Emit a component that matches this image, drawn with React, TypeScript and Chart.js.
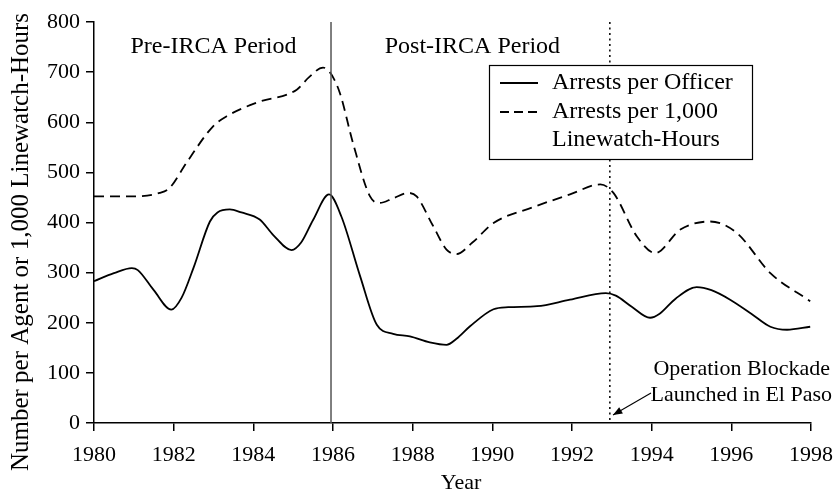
import React, { useEffect, useRef } from "react";
import { Chart, registerables } from "chart.js";

Chart.register(...registerables);

// ---- data ----
const officerYears = [
  1980, 1980.5, 1980.95, 1981.1, 1981.5, 1981.94, 1982.2, 1982.5, 1982.91, 1983.1, 1983.41,
  1983.7, 1984.16, 1984.5, 1984.96, 1985.2, 1985.5, 1985.9, 1986.21, 1986.68, 1987.1, 1987.51,
  1987.93, 1988.43, 1988.85, 1989.1, 1989.44, 1990.03, 1990.4, 1991.12, 1991.95, 1992.85,
  1993.1, 1993.5, 1993.96, 1994.2, 1994.6, 1995.13, 1995.5, 1995.97, 1996.5, 1996.98, 1997.4,
  1997.98,
];
const officerValues = [
  283, 299, 309, 305, 265, 226, 250, 310, 402, 420, 426, 420, 406, 375, 345, 360, 405, 456,
  412, 293, 196, 178, 173, 161, 156, 168, 193, 227, 231, 233, 246, 259, 254, 232, 210, 218,
  248, 271, 265, 246, 218, 192, 186, 192,
];

const linewatchYears = [
  1980, 1980.8, 1981.65, 1981.9, 1982.32, 1982.99, 1983.33, 1984.08, 1985.09, 1985.4, 1985.75,
  1985.92, 1986.17, 1986.5, 1986.93, 1987.18, 1987.5, 1987.89, 1988.1, 1988.5, 1988.85, 1989.1,
  1989.5, 1990.03, 1991, 1991.95, 1992.71, 1993.04, 1993.63, 1994.09, 1994.72, 1995.47,
  1996.14, 1996.98, 1997.98,
];
const linewatchValues = [
  452, 452, 459, 469, 519, 592, 612, 639, 665, 690, 709, 700, 659, 559, 452, 439, 448, 459,
  452, 395, 346, 337, 360, 399, 430, 456, 476, 459, 372, 339, 386, 402, 379, 299, 243,
];

const xTicks = [1980, 1982, 1984, 1986, 1988, 1990, 1992, 1994, 1996, 1998];
const yTicks = [0, 100, 200, 300, 400, 500, 600, 700, 800];

const seriesNames = ["Arrests per Officer", "Arrests per 1,000 Linewatch-Hours"];
const legendLines = [["Arrests per Officer"], ["Arrests per 1,000", "Linewatch-Hours"]];
const periodLabels = ["Pre-IRCA Period", "Post-IRCA Period"];
const periodLabelYears = [1983, 1989.5];
const periodLabelValue = 750;
const ircaYear = 1985.95;
const blockadeYear = 1992.95;
const blockadeText = ["Operation Blockade", "Launched in El Paso"];
const xTitle = "Year";
const yTitle = "Number per Agent or 1,000 Linewatch-Hours";

const FONT = "'Liberation Serif', 'Times New Roman', serif";
const FS = 22;
const TFS = 24;

const overlayPlugin = {
  id: "overlay",
  afterDatasetsDraw(chart: any) {
    const ctx = chart.ctx as CanvasRenderingContext2D;
    const xs = chart.scales.x;
    const ys = chart.scales.y;
    const area = chart.chartArea;
    ctx.save();

    // IRCA solid vertical line
    const xi = xs.getPixelForValue(ircaYear);
    ctx.strokeStyle = "#555";
    ctx.lineWidth = 1.5;
    ctx.beginPath();
    ctx.moveTo(xi, area.top);
    ctx.lineTo(xi, area.bottom);
    ctx.stroke();

    // Blockade dotted line
    const xb = xs.getPixelForValue(blockadeYear);
    ctx.strokeStyle = "#000";
    ctx.lineWidth = 1.5;
    ctx.setLineDash([2, 3.5]);
    ctx.beginPath();
    ctx.moveTo(xb, area.top);
    ctx.lineTo(xb, area.bottom);
    ctx.stroke();
    ctx.setLineDash([]);

    ctx.fillStyle = "#000";
    ctx.font = `${TFS}px ${FONT}`;
    ctx.textBaseline = "middle";
    ctx.textAlign = "center";
    periodLabels.forEach((t, i) => {
      ctx.fillText(t, xs.getPixelForValue(periodLabelYears[i]), ys.getPixelForValue(periodLabelValue));
    });

    // legend box
    const lx = 489, ly = 65, lw = 263, lh = 94;
    ctx.fillStyle = "#fff";
    ctx.fillRect(lx, ly, lw, lh);
    ctx.strokeStyle = "#000";
    ctx.lineWidth = 1.2;
    ctx.strokeRect(lx + 0.5, ly + 0.5, lw, lh);
    const rowY = [83, 112, 140];
    ctx.lineWidth = 1.8;
    ctx.beginPath();
    ctx.moveTo(500, rowY[0]);
    ctx.lineTo(538, rowY[0]);
    ctx.stroke();
    ctx.setLineDash([9, 5]);
    ctx.beginPath();
    ctx.moveTo(500, rowY[1]);
    ctx.lineTo(538, rowY[1]);
    ctx.stroke();
    ctx.setLineDash([]);
    ctx.fillStyle = "#000";
    ctx.textAlign = "left";
    let r = 0;
    legendLines.forEach((lines) => {
      lines.forEach((t) => {
        ctx.fillText(t, 552, rowY[r]);
        r++;
      });
    });

    // blockade annotation
    ctx.font = `${FS}px ${FONT}`;
    ctx.textAlign = "right";
    ctx.fillText(blockadeText[0], 830, 369);
    ctx.fillText(blockadeText[1], 832, 395);
    const ax0 = 651, ay0 = 393, ax1 = 613, ay1 = 415;
    ctx.lineWidth = 1.1;
    ctx.beginPath();
    ctx.moveTo(ax0, ay0);
    ctx.lineTo(ax1, ay1);
    ctx.stroke();
    const ang = Math.atan2(ay1 - ay0, ax1 - ax0);
    const hl = 10, hw = 0.38;
    ctx.beginPath();
    ctx.moveTo(ax1, ay1);
    ctx.lineTo(ax1 - hl * Math.cos(ang - hw), ay1 - hl * Math.sin(ang - hw));
    ctx.lineTo(ax1 - hl * Math.cos(ang + hw), ay1 - hl * Math.sin(ang + hw));
    ctx.closePath();
    ctx.fill();

    // axis titles
    ctx.textAlign = "center";
    ctx.textBaseline = "alphabetic";
    ctx.fillText(xTitle, 461, 489);
    ctx.font = `25px ${FONT}`;
    ctx.save();
    ctx.translate(28, 242);
    ctx.rotate(-Math.PI / 2);
    ctx.fillText(yTitle, 0, 0);
    ctx.restore();

    ctx.restore();
  },
};

export default function App() {
  const ref = useRef<HTMLCanvasElement | null>(null);
  useEffect(() => {
    if (!ref.current) return;
    Chart.defaults.font.family = FONT;
    Chart.defaults.font.size = FS;
    Chart.defaults.color = "#000";
    const chart = new Chart(ref.current, {
      type: "line",
      data: {
        datasets: [
          {
            label: seriesNames[0],
            data: officerYears.map((x, i) => ({ x, y: officerValues[i] })),
            borderColor: "#000",
            borderWidth: 1.8,
            pointRadius: 0,
            cubicInterpolationMode: "monotone",
            fill: false,
          },
          {
            label: seriesNames[1],
            data: linewatchYears.map((x, i) => ({ x, y: linewatchValues[i] })),
            borderColor: "#000",
            borderWidth: 1.8,
            borderDash: [10, 6],
            pointRadius: 0,
            cubicInterpolationMode: "monotone",
            fill: false,
          },
        ],
      },
      options: {
        animation: false,
        responsive: false,
        layout: { padding: { top: 22, right: 25, left: 0, bottom: 0 } },
        plugins: { legend: { display: false }, tooltip: { enabled: false } },
        scales: {
          x: {
            type: "linear",
            min: 1980,
            max: 1998,
            afterBuildTicks: (s: any) => {
              s.ticks = xTicks.map((v) => ({ value: v }));
            },
            afterFit: (s: any) => {
              s.height = 68;
              s.paddingRight = 0;
              s.paddingLeft = 0;
            },
            ticks: { padding: 11, font: { size: FS, family: FONT }, color: "#000", callback: (v: any) => String(v) },
            grid: { drawOnChartArea: false, drawTicks: true, tickLength: 8, color: "#000", lineWidth: 1.5 },
            border: { display: true, color: "#000", width: 1.5 },
          },
          y: {
            min: 0,
            max: 800,
            afterBuildTicks: (s: any) => {
              s.ticks = yTicks.map((v) => ({ value: v }));
            },
            afterFit: (s: any) => {
              s.width = 94;
              s.paddingTop = 0;
              s.paddingBottom = 0;
            },
            ticks: { padding: 6, font: { size: FS, family: FONT }, color: "#000" },
            grid: { drawOnChartArea: false, drawTicks: true, tickLength: 8, color: "#000", lineWidth: 1.5 },
            border: { display: true, color: "#000", width: 1.5 },
          },
        },
      },
      plugins: [overlayPlugin],
    } as any);
    return () => chart.destroy();
  }, []);
  return (
    <div style={{ position: "fixed", left: 0, top: 0, width: 836, height: 491, background: "#fff" }}>
      <canvas ref={ref} width={836} height={491} style={{ width: 836, height: 491 }} />
    </div>
  );
}
